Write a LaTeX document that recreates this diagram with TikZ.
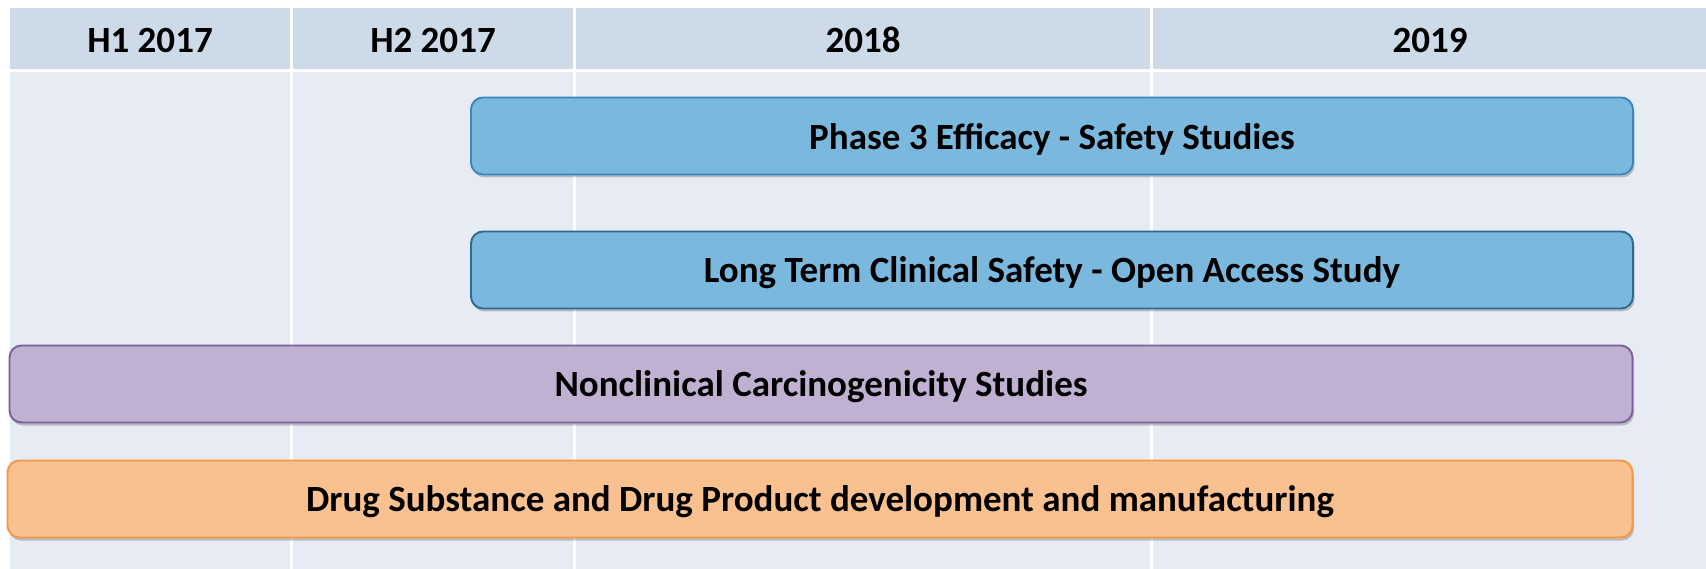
\documentclass[tikz,border=0pt]{standalone}
\usepackage{fontspec}
\setmainfont{Carlito}
\usetikzlibrary{positioning,shadows}
\definecolor{headfill}{HTML}{CDDBE8}
\definecolor{bodyfill}{HTML}{E7EBF3}
\definecolor{bluefill}{HTML}{7AB8DE}
\definecolor{blueline}{HTML}{3A87BC}
\definecolor{bluedark}{HTML}{2A6A93}
\definecolor{purplefill}{HTML}{C0B0D2}
\definecolor{purpleline}{HTML}{7A5F9A}
\definecolor{orangefill}{HTML}{F9C090}
\definecolor{orangeline}{HTML}{F79646}

\begin{document}
\begin{tikzpicture}[x=1pt,y=-1pt]
\tikzstyle{headcell} = [fill=headfill];
\tikzstyle{bodycell} = [fill=bodyfill];
\tikzstyle{headtext} = [font=\fontsize{37}{44}\selectfont\bfseries, text=black];
\tikzstyle{bar} = [shape=rectangle, rounded corners=12pt, line width=1.9pt, minimum height=77pt, inner sep=0pt, text depth=0pt, font=\fontsize{37}{44}\selectfont\bfseries, text=black, drop shadow={shadow xshift=1.5pt, shadow yshift=-3pt, opacity=0.3, fill=black!70}];

\useasboundingbox (0,0) rectangle (1706,569);
\fill[white] (0,0) rectangle (1706,569);

% header row and columns
\fill[headcell] (10,8) rectangle (290,69);
\fill[headcell] (293,8) rectangle (573,69);
\fill[headcell] (576,8) rectangle (1150,69);
\fill[headcell] (1153,8) rectangle (1706,69);
\fill[bodycell] (10,72) rectangle (290,569);
\fill[bodycell] (293,72) rectangle (573,569);
\fill[bodycell] (576,72) rectangle (1150,569);
\fill[bodycell] (1153,72) rectangle (1706,569);

\node[headtext](h1) at (150,40) {H1 2017};
\node[headtext](h2) at (433,40) {H2 2017};
\node[headtext](y18) at (863,40) {2018};
\node[headtext](y19) at (1430,40) {2019};

% bars
\node[bar, draw=blueline, fill=bluefill, minimum width=1162pt](phase3) at (1052,136) {Phase 3 Efficacy - Safety Studies};
\node[bar, draw=bluedark, fill=bluefill, minimum width=1162pt](longterm) at (1052,270) {Long Term Clinical Safety - Open Access Study};
\node[bar, draw=purpleline, fill=purplefill, minimum width=1623pt](nonclin) at (821,384) {Nonclinical Carcinogenicity Studies};
\node[bar, draw=orangeline, fill=orangefill, minimum width=1625pt](drug) at (820,499) {Drug Substance and Drug Product development and manufacturing};
\end{tikzpicture}
\end{document}
